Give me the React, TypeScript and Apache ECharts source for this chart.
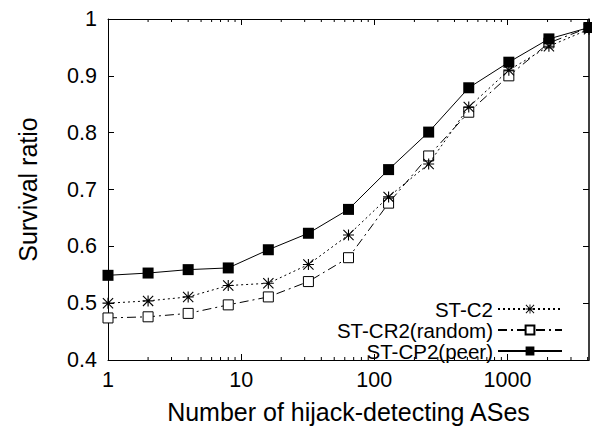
import React, { useEffect, useRef } from "react";
import * as echarts from "echarts";

// Number of hijack-detecting ASes (log scale)
const detectors = [1, 2, 4, 8, 16, 32, 64, 128, 256, 512, 1024, 2048, 4096];

// Survival ratio per strategy
const stC2 = [0.5, 0.504, 0.511, 0.531, 0.535, 0.568, 0.62, 0.687, 0.745, 0.845, 0.91, 0.952, 0.982];
const stCR2 = [0.474, 0.476, 0.482, 0.497, 0.511, 0.538, 0.58, 0.676, 0.759, 0.836, 0.9, 0.958, 0.985];
const stCP2 = [0.549, 0.553, 0.559, 0.562, 0.594, 0.623, 0.665, 0.735, 0.801, 0.879, 0.924, 0.965, 0.985];

const seriesNames = ["ST-C2", "ST-CR2(random)", "ST-CP2(peer)"];

// Minor ticks between decades
const minorTickValues = [
  2, 3, 4, 5, 6, 7, 8, 9,
  20, 30, 40, 50, 60, 70, 80, 90,
  200, 300, 400, 500, 600, 700, 800, 900,
  2000, 3000, 4000,
];

const X_MIN = 1;
const X_MAX = 4096;
const Y_MIN = 0.4;
const Y_MAX = 1;

const FONT = "'Liberation Sans', Arial, Helvetica, sans-serif";

// Asterisk marker: plus and cross overlaid
const ASTERISK =
  "path://M0 9H20V11H0Z M9 0H11V20H9Z M1.4 0L20 18.6L18.6 20L0 1.4Z M18.6 0L20 1.4L1.4 20L0 18.6Z";

const pairs = (ys: number[]) => detectors.map((x, i) => [x, ys[i]]);

export default function App() {
  const ref = useRef<HTMLDivElement>(null);

  useEffect(() => {
    if (!ref.current) return;
    const chart = echarts.init(ref.current, undefined, { renderer: "svg" });

    const axisLine = { show: true, lineStyle: { color: "#000", width: 1 } };
    const tickStyle = { show: true, inside: true, length: 6, lineStyle: { color: "#000", width: 1 } };

    const legendBase = {
      orient: "horizontal" as const,
      align: "right" as const,
      right: 29,
      itemWidth: 64,
      itemHeight: 11,
      padding: 0,
      textStyle: { fontFamily: FONT, fontSize: 20.5, lineHeight: 20, color: "#000" },
    };

    chart.setOption({
      animation: false,
      backgroundColor: "#fff",
      grid: { left: 108, right: 3, top: 19, bottom: 63, containLabel: false },
      legend: [
        { ...legendBase, top: 298.5, data: [seriesNames[0]] },
        { ...legendBase, top: 319.5, data: [seriesNames[1]] },
        { ...legendBase, top: 340.5, data: [seriesNames[2]] },
      ],
      xAxis: [
        {
          type: "log",
          logBase: 10,
          min: X_MIN,
          max: X_MAX,
          name: "Number of hijack-detecting ASes",
          nameLocation: "middle",
          nameGap: 39,
          nameTextStyle: { fontFamily: FONT, fontSize: 25, color: "#000" },
          axisLine,
          axisTick: tickStyle,
          axisLabel: {
            fontFamily: FONT,
            fontSize: 21.5,
            color: "#000",
            margin: 9,
            showMaxLabel: false,
            formatter: (v: number) => String(Math.round(v)),
          },
          splitLine: { show: false },
        },
        {
          type: "log",
          logBase: 10,
          min: X_MIN,
          max: X_MAX,
          position: "top",
          axisLine,
          axisTick: tickStyle,
          axisLabel: { show: false },
          splitLine: { show: false },
        },
      ],
      yAxis: [
        {
          type: "value",
          min: Y_MIN,
          max: Y_MAX,
          interval: 0.1,
          name: "Survival ratio",
          nameLocation: "middle",
          nameGap: 67.5,
          nameTextStyle: { fontFamily: FONT, fontSize: 25, color: "#000" },
          axisLine,
          axisTick: tickStyle,
          axisLabel: {
            fontFamily: FONT,
            fontSize: 21.5,
            color: "#000",
            margin: 11,
            formatter: (v: number) => String(Math.round(v * 10) / 10),
          },
          splitLine: { show: false },
        },
        {
          type: "value",
          min: Y_MIN,
          max: Y_MAX,
          interval: 0.1,
          position: "right",
          axisLine: { show: true, lineStyle: { color: "#000", width: 1.5 } },
          axisTick: tickStyle,
          axisLabel: { show: false },
          splitLine: { show: false },
        },
      ],
      series: [
        {
          name: seriesNames[0],
          type: "line",
          data: pairs(stC2),
          symbol: ASTERISK,
          symbolSize: 11,
          lineStyle: { color: "#000", width: 1, type: [2, 3] },
          itemStyle: { color: "#000" },
          z: 3,
        },
        {
          name: seriesNames[1],
          type: "line",
          data: pairs(stCR2),
          symbol: "rect",
          symbolSize: 10,
          lineStyle: { color: "#000", width: 1, type: [9, 4, 2, 4] },
          itemStyle: { color: "#fff", borderColor: "#000", borderWidth: 1 },
          z: 2,
        },
        {
          name: seriesNames[2],
          type: "line",
          data: pairs(stCP2),
          symbol: "rect",
          symbolSize: 11,
          lineStyle: { color: "#000", width: 1, type: "solid" },
          itemStyle: { color: "#000" },
          z: 4,
        },
        {
          type: "custom",
          silent: true,
          clip: false,
          data: minorTickValues.map((v) => [v]),
          renderItem: (_params: any, api: any) => {
            const v = api.value(0);
            const bottom = api.coord([v, Y_MIN]);
            const top = api.coord([v, Y_MAX]);
            const style = { stroke: "#000", lineWidth: 1 };
            return {
              type: "group",
              children: [
                { type: "line", shape: { x1: bottom[0], y1: bottom[1], x2: bottom[0], y2: bottom[1] - 3 }, style },
                { type: "line", shape: { x1: top[0], y1: top[1], x2: top[0], y2: top[1] + 3 }, style },
              ],
            };
          },
          z: 1,
        },
      ],
    });

    return () => chart.dispose();
  }, []);

  return <div ref={ref} style={{ width: 592, height: 429, position: "absolute", left: 0, top: 0 }} />;
}
